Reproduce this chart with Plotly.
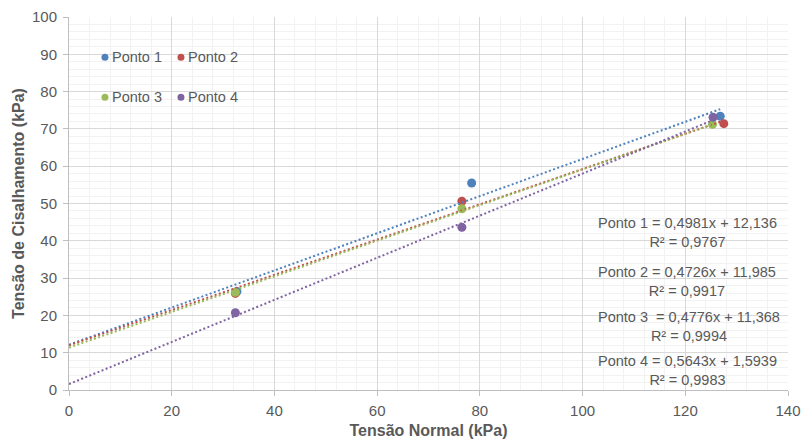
import plotly.graph_objects as go

# Measured points for each series (normal stress vs. shear stress, kPa)
names = ["Ponto 1", "Ponto 2", "Ponto 3", "Ponto 4"]
colors = ["#4F81BD", "#C0504D", "#9BBB59", "#8064A2"]
x_vals = [
    [32.7, 78.4, 126.8],
    [32.4, 76.5, 127.5],
    [32.4, 76.5, 125.3],
    [32.4, 76.5, 125.4],
]
y_vals = [
    [26.4, 55.5, 73.4],
    [25.9, 50.6, 71.4],
    [26.2, 48.6, 71.2],
    [20.7, 43.6, 73.1],
]

# Linear trendline coefficients and fit quality
slopes = [0.4981, 0.4726, 0.4776, 0.5643]
intercepts = [12.136, 11.985, 11.368, 1.5939]
r2 = [0.9767, 0.9917, 0.9994, 0.9983]
eq_sep = [" = ", " = ", "\u00a0 = ", " = "]

x_ticks = [0, 20, 40, 60, 80, 100, 120, 140]
y_ticks = [0, 10, 20, 30, 40, 50, 60, 70, 80, 90, 100]

FONT = "Liberation Sans, Arial, sans-serif"
GRAY = "#595959"


def br(v, digits):
    return f"{v:.{digits}f}".replace(".", ",")


fig = go.Figure()

# Data markers
for n, c, xs, ys in zip(names, colors, x_vals, y_vals):
    fig.add_trace(go.Scatter(
        x=xs, y=ys, mode="markers", name=n, showlegend=False,
        marker=dict(color=c, size=9, line=dict(width=0)),
        hoverinfo="x+y+name",
    ))

# Dotted trendlines from x = 0 to the last point of each series
for n, c, xs, m, b in zip(names, colors, x_vals, slopes, intercepts):
    x_end = max(xs)
    fig.add_trace(go.Scatter(
        x=[0, x_end], y=[b, m * x_end + b], mode="lines",
        showlegend=False, hoverinfo="skip",
        line=dict(color=c, width=2, dash="2px,2.4px"),
    ))

# Trendline equations
eq_pos = [(120.4, 42.3), (120.4, 29.1), (120.7, 17.1), (120.4, 5.3)]
for n, m, b, r, sep, (ax, ay) in zip(names, slopes, intercepts, r2, eq_sep, eq_pos):
    b_digits = 3 if b >= 10 else 4
    txt = f"{n}{sep}{br(m, 4)}x + {br(b, b_digits)}<br>R² = {br(r, 4)}"
    fig.add_annotation(
        x=ax, y=ay, xref="x", yref="y", text=txt, showarrow=False,
        align="center", xanchor="center", yanchor="middle",
        font=dict(family=FONT, size=14.5, color=GRAY),
    )

# Legend: two rows of two entries inside the plot area
leg_pos = [(7.0, 89.2), (21.8, 89.2), (7.0, 78.5), (21.8, 78.5)]
for n, c, (lx, ly) in zip(names, colors, leg_pos):
    fig.add_shape(
        type="circle", xref="x", yref="y", xsizemode="pixel", ysizemode="pixel",
        xanchor=lx, yanchor=ly, x0=-3.5, x1=3.5, y0=-3.5, y1=3.5,
        fillcolor=c, line=dict(width=0),
    )
    fig.add_annotation(
        x=lx, y=ly, xref="x", yref="y", text=n, showarrow=False,
        xanchor="left", yanchor="middle", xshift=5,
        font=dict(family=FONT, size=14.5, color=GRAY),
    )

axis_common = dict(
    showline=True, linecolor="#BFBFBF", linewidth=1,
    ticks="outside", ticklen=5, tickcolor="#BFBFBF",
    showgrid=True, gridcolor="#D9D9D9", gridwidth=1,
    zeroline=False, automargin=False,
    tickfont=dict(family=FONT, size=15, color=GRAY),
)

fig.update_xaxes(
    range=[0, 140], tickvals=x_ticks, ticklabelstandoff=2,
    minor=dict(dtick=4, tick0=0, showgrid=True, gridcolor="#F2F2F2", ticks=""),
    title=dict(text="<b>Tensão Normal (kPa)</b>", standoff=6,
               font=dict(family=FONT, size=16, color=GRAY)),
    **axis_common,
)
fig.update_yaxes(
    range=[0, 100], tickvals=y_ticks, ticklabelstandoff=3,
    minor=dict(dtick=2, tick0=0, showgrid=True, gridcolor="#F2F2F2", ticks=""),
    title=dict(text="<b>Tensão de Cisalhamento (kPa)</b>", standoff=3,
               font=dict(family=FONT, size=16, color=GRAY)),
    **axis_common,
)

fig.update_layout(
    width=803, height=440,
    margin=dict(l=69, r=15, t=17, b=49.5),
    paper_bgcolor="white", plot_bgcolor="white",
    showlegend=False,
    font=dict(family=FONT, size=14, color=GRAY),
)

fig.write_html("out.html")
